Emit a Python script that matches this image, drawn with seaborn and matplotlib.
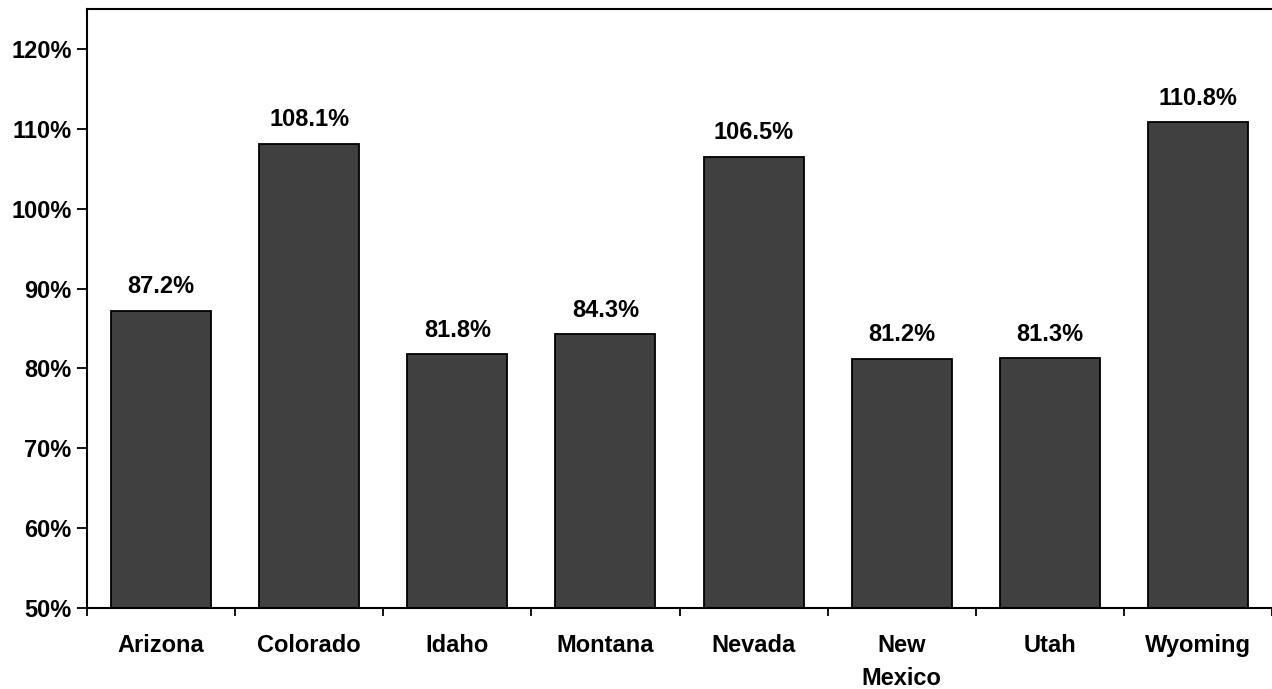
import matplotlib
matplotlib.use("Agg")
import matplotlib.pyplot as plt
from matplotlib.ticker import FixedLocator, NullFormatter
import seaborn as sns
import pandas as pd

states = ["Arizona", "Colorado", "Idaho", "Montana", "Nevada", "New\nMexico", "Utah", "Wyoming"]
ratios = [87.2, 108.1, 81.8, 84.3, 106.5, 81.2, 81.3, 110.8]
y_ticks = [50, 60, 70, 80, 90, 100, 110, 120]

sns.set_theme(style="white")
plt.rcParams["font.family"] = ["Liberation Sans", "DejaVu Sans"]
plt.rcParams["font.weight"] = "bold"
plt.rcParams["text.color"] = "black"
plt.rcParams["xtick.color"] = "black"
plt.rcParams["ytick.color"] = "black"

FS = 17

df = pd.DataFrame({"state": states, "ratio": ratios})

fig = plt.figure(figsize=(12.72, 6.89), dpi=100)
ax = fig.add_axes([87 / 1272, 1 - 608 / 689, 1 - 87 / 1272, (608 - 9) / 689])

sns.barplot(data=df, x="state", y="ratio", color="#404040", saturation=1,
            edgecolor="black", linewidth=1.3, width=0.675, ax=ax)

ax.set_ylim(50, 125)
ax.set_xlim(-0.5, len(states) - 0.5)
ax.set_yticks(y_ticks)
ax.set_yticklabels([f"{v}%" for v in y_ticks], fontsize=FS, fontweight="bold",
                   color="black")

# category boundaries carry the tick marks, labels sit at the centers
ax.xaxis.set_major_locator(FixedLocator([i - 0.5 for i in range(len(states) + 1)]))
ax.xaxis.set_major_formatter(NullFormatter())
ax.xaxis.set_minor_locator(FixedLocator(list(range(len(states)))))
ax.set_xticklabels(states, minor=True, fontsize=FS, fontweight="bold",
                   color="black", linespacing=1.55)
ax.tick_params(axis="x", which="major", direction="out", length=6, width=1.3,
               color="black", bottom=True)
ax.tick_params(axis="x", which="minor", length=0, pad=19)
ax.tick_params(axis="y", direction="out", length=7, width=1.3, color="black",
               left=True, pad=4)

ax.set_xlabel("")
ax.set_ylabel("")

for side in ["left", "top", "bottom"]:
    ax.spines[side].set_visible(True)
    ax.spines[side].set_color("black")
    ax.spines[side].set_linewidth(1.5)
ax.spines["right"].set_visible(False)

ax.bar_label(ax.containers[0], labels=[f"{v:.1f}%" for v in ratios],
             padding=9, fontsize=FS, fontweight="bold", color="black")

fig.savefig("out.png", dpi=100, facecolor="white")
